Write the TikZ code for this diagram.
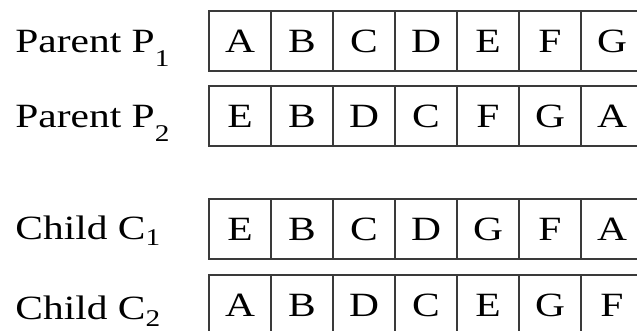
\documentclass[tikz,border=0pt]{standalone}
\usepackage{fontspec}
\setmainfont[FakeStretch=1.22]{Liberation Serif}
\usetikzlibrary{positioning}
\definecolor{cline}{HTML}{3a3a3a}
\newcommand{\lowsub}[2][-7pt]{\raisebox{#1}{\fontsize{12}{12}\selectfont #2}}

\begin{document}
\begin{tikzpicture}[
  x=0.5pt, y=-0.5pt,
  font=\fontsize{17}{20}\selectfont,
  cell/.style={draw=cline, line width=1pt, minimum width=31pt,
               minimum height=30pt, inner sep=0pt, outer sep=0pt},
  lbl/.style={anchor=base west, inner sep=0pt},
  node distance=0pt,
]
\useasboundingbox (0,0) rectangle (637,331);

% parents
\node[lbl] (lp1) at (15,53) {Parent P\lowsub{1}};
\node[cell] (p1a) at (240,41.5) {A};
\node[cell, right=of p1a] (p1b) {B}; \node[cell, right=of p1b] (p1c) {C};
\node[cell, right=of p1c] (p1d) {D}; \node[cell, right=of p1d] (p1e) {E};
\node[cell, right=of p1e] (p1f) {F}; \node[cell, right=of p1f] (p1g) {G};

\node[lbl] (lp2) at (15,128) {Parent P\lowsub{2}};
\node[cell] (p2a) at (240,116) {E};
\node[cell, right=of p2a] (p2b) {B}; \node[cell, right=of p2b] (p2c) {D};
\node[cell, right=of p2c] (p2d) {C}; \node[cell, right=of p2d] (p2e) {F};
\node[cell, right=of p2e] (p2f) {G}; \node[cell, right=of p2f] (p2g) {A};

% children
\node[lbl] (lc1) at (15,240) {Child C\lowsub[-3pt]{1}};
\node[cell] (c1a) at (240,229) {E};
\node[cell, right=of c1a] (c1b) {B}; \node[cell, right=of c1b] (c1c) {C};
\node[cell, right=of c1c] (c1d) {D}; \node[cell, right=of c1d] (c1e) {G};
\node[cell, right=of c1e] (c1f) {F}; \node[cell, right=of c1f] (c1g) {A};

\node[lbl] (lc2) at (15,320) {Child C\lowsub[-3pt]{2}};
\node[cell] (c2a) at (240,305) {A};
\node[cell, right=of c2a] (c2b) {B}; \node[cell, right=of c2b] (c2c) {D};
\node[cell, right=of c2c] (c2d) {C}; \node[cell, right=of c2d] (c2e) {E};
\node[cell, right=of c2e] (c2f) {G}; \node[cell, right=of c2f] (c2g) {F};
\end{tikzpicture}
\end{document}
